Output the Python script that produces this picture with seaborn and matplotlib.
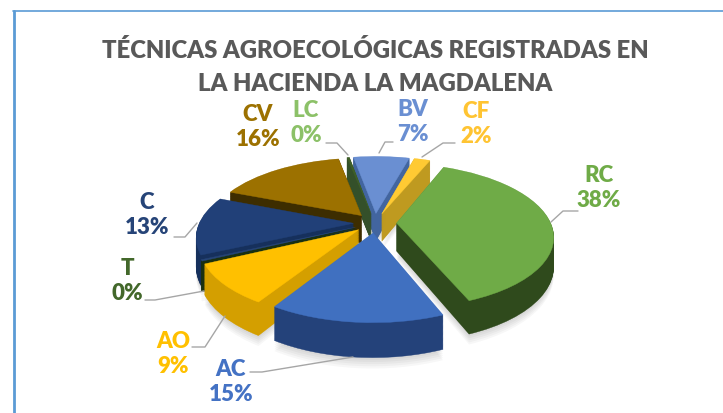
import matplotlib
matplotlib.use("Agg")
import matplotlib.pyplot as plt
import numpy as np
import seaborn as sns
from matplotlib.lines import Line2D
from matplotlib.transforms import Transform

categories = ["BV", "CF", "RC", "AC", "AO", "T", "C", "CV", "LC"]
percent_labels = ["7%", "2%", "38%", "15%", "9%", "0%", "13%", "16%", "0%"]
values = [7, 2, 38, 15, 9, 0.3, 13, 16, 0.3]
explode = [0.14, 0.14, 0.14, 0.14, 0.14, 0.14, 0.14, 0.14, 0.14]

top_colors = ["#6a8fd2", "#ffca33", "#6fab47", "#4070c0", "#ffc000", "#264478", "#214078", "#9c7100", "#3f5f28"]
side_colors = ["#42659f", "#bf9a20", "#2f4a1c", "#24427a", "#d49f00", "#1a3010", "#16305c", "#3d2d00", "#34502a"]
label_colors = ["#6a8fd2", "#ffc432", "#6fab47", "#4472c4", "#ffc000", "#43682b", "#264478", "#9c7100", "#8cc168"]

sns.set_style("white")
plt.rcParams["font.family"] = ["Lato", "DejaVu Sans"]

W, H = 723, 413
cx, cy = 375, 223   # pie centre in pixels
rx, ry = 154, 70    # squash of the circle
depth = 0.4
layers = 40
shadow_layers = 5
tilt = 0.175


class Tilted(Transform):
    # fake 3D view: near side of the pie bigger than far side, dropped by z
    input_dims = 2
    output_dims = 2

    def __init__(self, z=0.0):
        super().__init__()
        self.z = z

    def transform_non_affine(self, xy):
        xy = np.asarray(xy)
        s = 1 / (1 + tilt * xy[:, 1])
        return np.column_stack([xy[:, 0] * s, (xy[:, 1] - self.z) * s])


fig = plt.figure(figsize=(W / 100, H / 100), dpi=100)
ax = fig.add_axes([0, 0, 1, 1])


def fx(px):
    return px / W


def fy(py):
    return 1 - py / H


# back slices first
rank = {"CF": 1, "BV": 1, "LC": 2, "CV": 3, "C": 4, "T": 5, "RC": 6, "AO": 7, "AC": 8}

# soft shadow under the pie
for k in range(shadow_layers, 0, -1):
    wedges, _ = ax.pie(values, explode=explode, colors=["#000000"] * len(values), startangle=100,
                       counterclock=False, radius=1, wedgeprops={"linewidth": 0, "alpha": 0.03})
    for w in wedges:
        w.set_transform(Tilted(depth + 0.025 * k) + ax.transData)
        w.set_zorder(1)

# side walls layer by layer, then the top face
for k in range(layers, -1, -1):
    cols = top_colors if k == 0 else side_colors
    wedges, _ = ax.pie(values, explode=explode, colors=cols, startangle=100, counterclock=False,
                       radius=1, wedgeprops={"linewidth": 0.3})
    for i, w in enumerate(wedges):
        w.set_edgecolor(cols[i])
        w.set_transform(Tilted(depth * k / layers) + ax.transData)
        w.set_zorder(rank[categories[i]] * 100 + (layers - k) + 1)

ax.set_aspect("auto")
ax.set_xlim(-cx / rx, (W - cx) / rx)
ax.set_ylim((cy - H) / ry, cy / ry)
ax.axis("off")

# chart border
fig.add_artist(Line2D([fx(14), fx(14)], [fy(11), fy(413)], color="#5b9bd5", lw=2))
fig.add_artist(Line2D([fx(13), fx(723)], [fy(11), fy(11)], color="#5b9bd5", lw=1.2))

fig.text(fx(375), fy(50), "TÉCNICAS AGROECOLÓGICAS REGISTRADAS EN", color="#595959",
         fontsize=17.2, fontweight=800, ha="center", va="center")
fig.text(fx(375), fy(84), "LA HACIENDA LA MAGDALENA", color="#595959",
         fontsize=17.2, fontweight=800, ha="center", va="center")

# label centres in pixels
label_pos = {"BV": (413, 122), "CF": (476, 124), "RC": (599, 188), "AC": (231, 382), "AO": (173, 354),
             "T": (127, 281), "C": (147, 215), "CV": (258, 127), "LC": (306, 123)}
leaders = {"BV": [(379, 153), (385, 142), (393, 142)], "CF": [(422, 157), (443, 143), (455, 143)],
           "RC": [(551, 222), (563, 211), (578, 211)], "AC": [(353, 357), (262, 372), (250, 372)],
           "AO": [(225, 316), (205, 347), (192, 347)], "T": [(204, 291), (155, 300), (145, 300)],
           "C": [(197, 223), (185, 237), (174, 237)], "LC": [(348, 155), (337, 143), (326, 143)]}

for i, cat in enumerate(categories):
    x, y = label_pos[cat]
    fig.text(fx(x), fy(y), cat + "\n" + percent_labels[i], color=label_colors[i], fontsize=16,
             fontweight=800, ha="center", va="center", linespacing=1.2)
    if cat in leaders:
        pts = leaders[cat]
        fig.add_artist(Line2D([fx(p[0]) for p in pts], [fy(p[1]) for p in pts], color="#a6a6a6", lw=1))

fig.savefig("out.png", dpi=100, facecolor="white")
